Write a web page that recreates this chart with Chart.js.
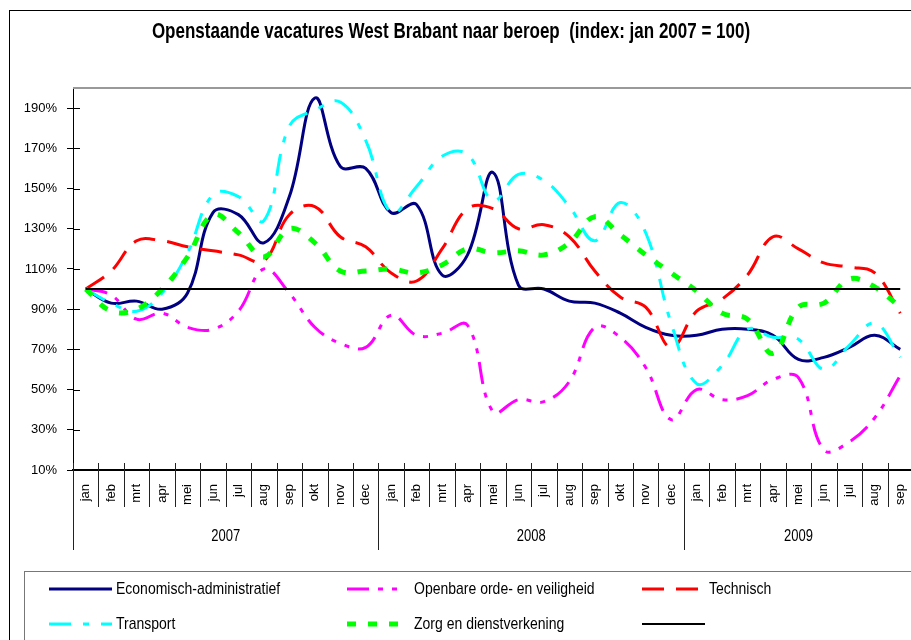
<!DOCTYPE html>
<html>
<head>
<meta charset="utf-8">
<script src="https://cdn.jsdelivr.net/npm/chart.js@4.4.0/dist/chart.umd.min.js"></script>
<style>
  html, body { margin: 0; padding: 0; background: #fff; overflow: hidden; }
  canvas { display: block; }
</style>
</head>
<body>
<canvas id="chart" width="930" height="640"></canvas>
<script>
// maanden en jaren voor de as
const maanden = ['jan', 'feb', 'mrt', 'apr', 'mei', 'jun', 'jul', 'aug', 'sep', 'okt', 'nov', 'dec'];
const labels = [...maanden, ...maanden, ...maanden.slice(0, 9)];
const jaren = ['2007', '2008', '2009'];
const yTicks = [10, 30, 50, 70, 90, 110, 130, 150, 170, 190];

// index jan 2007 = 100
const economisch = [100, 93, 94, 90, 98, 138, 137, 123, 146, 195, 161, 160,
                    138, 142, 107, 117, 158, 102, 100, 94, 93, 88, 81, 77,
                    77, 80, 80, 77, 65, 66, 71, 77, 70];
const openbareOrde = [100, 97, 85, 88, 81, 80, 89, 110, 98, 81, 73, 71,
                      87, 77, 78, 82, 39, 45, 44, 54, 81, 76, 61, 35,
                      50, 45, 47, 55, 56, 20, 24, 36, 57];
const technisch = [100, 109, 124, 124, 121, 119, 117, 114, 137, 141, 126, 121,
                   108, 104, 120, 140, 140, 130, 132, 126, 109, 96, 91, 71,
                   89, 95, 107, 126, 120, 113, 111, 108, 88];
const transport = [100, 93, 89, 98, 118, 147, 146, 134, 181, 189, 193, 174,
                   138, 151, 166, 167, 144, 157, 154, 141, 124, 143, 128, 83,
                   53, 62, 80, 76, 75, 60, 72, 83, 66];
const zorg = [100, 89, 90, 100, 116, 137, 128, 116, 130, 123, 109, 109,
              110, 108, 112, 120, 118, 119, 117, 123, 136, 127, 117, 108,
              99, 88, 85, 68, 91, 93, 105, 101, 91];
const referentie = [100, 100, 100, 100, 100, 100, 100, 100, 100, 100, 100, 100,
                    100, 100, 100, 100, 100, 100, 100, 100, 100, 100, 100, 100,
                    100, 100, 100, 100, 100, 100, 100, 100, 100];

const FONT = "'Liberation Sans', Arial, sans-serif";

function lijn(label, data, color, width, dash, order) {
  return {
    label, data, order,
    borderColor: color,
    borderWidth: width,
    borderDash: dash,
    borderCapStyle: 'butt',
    pointRadius: 0,
    fill: false,
    tension: 0.4
  };
}

// text a bit taller than wide, like the original
function tallText(ctx, text, x, y, sy) {
  ctx.save();
  ctx.translate(x, y);
  ctx.scale(1, sy);
  ctx.fillText(text, 0, 0);
  ctx.restore();
}

// title, axis dividers, year labels and the boxed legend
const decor = {
  id: 'decor',
  afterDraw(chart) {
    const { ctx, chartArea: a, scales: { x, y } } = chart;
    ctx.save();

    // outer frame
    ctx.strokeStyle = '#000';
    ctx.lineWidth = 1;
    ctx.strokeRect(9.5, 10.5, chart.width, chart.height);

    // plot area top border
    ctx.strokeStyle = '#999';
    ctx.lineWidth = 2;
    ctx.beginPath();
    ctx.moveTo(a.left, a.top);
    ctx.lineTo(a.right, a.top);
    ctx.stroke();

    // title
    ctx.fillStyle = '#000';
    ctx.font = 'bold 17px ' + FONT;
    ctx.textAlign = 'center';
    ctx.textBaseline = 'alphabetic';
    tallText(ctx, 'Openstaande vacatures West Brabant naar beroep  (index: jan 2007 = 100)', 451, 38, 1.3);

    // y ticks crossing the axis
    ctx.strokeStyle = '#000';
    ctx.lineWidth = 1;
    yTicks.forEach(v => {
      const py = Math.round(y.getPixelForValue(v)) + 0.5;
      ctx.beginPath();
      ctx.moveTo(a.left, py);
      ctx.lineTo(a.left + 7, py);
      ctx.stroke();
    });

    // month boundaries and year boundaries
    const step = (a.right - a.left) / labels.length;
    ctx.strokeStyle = '#222';
    for (let i = 0; i <= labels.length; i++) {
      const px = Math.round(a.left + i * step) + 0.5;
      const isYear = i % 12 === 0;
      ctx.beginPath();
      ctx.moveTo(px, a.bottom - 7);
      ctx.lineTo(px, isYear ? 550 : 507);
      ctx.stroke();
    }

    // year labels
    ctx.font = '13px ' + FONT;
    ctx.textAlign = 'center';
    jaren.forEach((j, k) => {
      const first = k * 12;
      const last = Math.min(first + 11, labels.length - 1);
      const x0 = x.getPixelForValue(first) - step / 2;
      const x1 = x.getPixelForValue(last) + step / 2;
      tallText(ctx, j, (x0 + x1) / 2, 541, 1.25);
    });

    // legend box
    ctx.strokeStyle = '#777';
    ctx.lineWidth = 1;
    ctx.strokeRect(24.5, 571.5, chart.width, 200);

    const pos = [
      [49, 112, 116, 589], [347, 405, 414, 589], [642, 705, 709, 589],
      [49, 112, 116, 624], [347, 405, 414, 624], [642, 705, 709, 624]
    ];
    ctx.textAlign = 'left';
    ctx.fillStyle = '#000';
    ctx.font = '14px ' + FONT;
    chart.data.datasets.forEach((ds, k) => {
      const [s0, s1, tx, ty] = pos[k];
      ctx.save();
      ctx.strokeStyle = ds.borderColor;
      ctx.lineWidth = ds.borderWidth;
      ctx.setLineDash(ds.borderDash || []);
      ctx.beginPath();
      ctx.moveTo(s0, ty);
      ctx.lineTo(s1, ty);
      ctx.stroke();
      ctx.restore();
      if (ds.label) tallText(ctx, ds.label, tx, ty + 4.5, 1.2);
    });

    ctx.restore();
  }
};

new Chart(document.getElementById('chart').getContext('2d'), {
  type: 'line',
  data: {
    labels,
    datasets: [
      lijn('Economisch-administratief', economisch, '#000080', 3, [], 6),
      lijn('Openbare orde- en veiligheid', openbareOrde, '#FF00FF', 3, [22, 9, 5, 9, 5, 9], 5),
      lijn('Technisch', technisch, '#FF0000', 3, [22, 12], 4),
      lijn('Transport', transport, '#00FFFF', 3, [22, 12, 6, 12], 3),
      lijn('Zorg en dienstverkening', zorg, '#00FF00', 5, [9, 12], 2),
      { ...lijn('', referentie, '#000000', 2, [], 1), tension: 0 }
    ]
  },
  options: {
    responsive: false,
    animation: false,
    layout: { padding: { left: 0, top: 88, right: 11, bottom: 0 } },
    plugins: {
      legend: { display: false },
      title: { display: false },
      tooltip: { enabled: false }
    },
    scales: {
      x: {
        offset: true,
        grid: { display: true, offset: true, drawOnChartArea: false, drawTicks: false },
        border: { display: true, color: '#000', width: 2 },
        ticks: {
          autoSkip: false, minRotation: 90, maxRotation: 90,
          padding: 14, color: '#000', font: { family: FONT, size: 13 }
        },
        afterFit(scale) { scale.height = 170; }
      },
      y: {
        min: 10, max: 200,
        afterBuildTicks(scale) { scale.ticks = yTicks.map(v => ({ value: v })); },
        grid: { drawOnChartArea: false, drawTicks: true, tickLength: 6, color: '#000' },
        border: { display: true, color: '#000', width: 1 },
        ticks: {
          padding: 10, color: '#000', font: { family: FONT, size: 13 },
          callback: v => v + '%'
        },
        afterFit(scale) { scale.width = 73; }
      }
    }
  },
  plugins: [decor]
});
</script>
</body>
</html>
